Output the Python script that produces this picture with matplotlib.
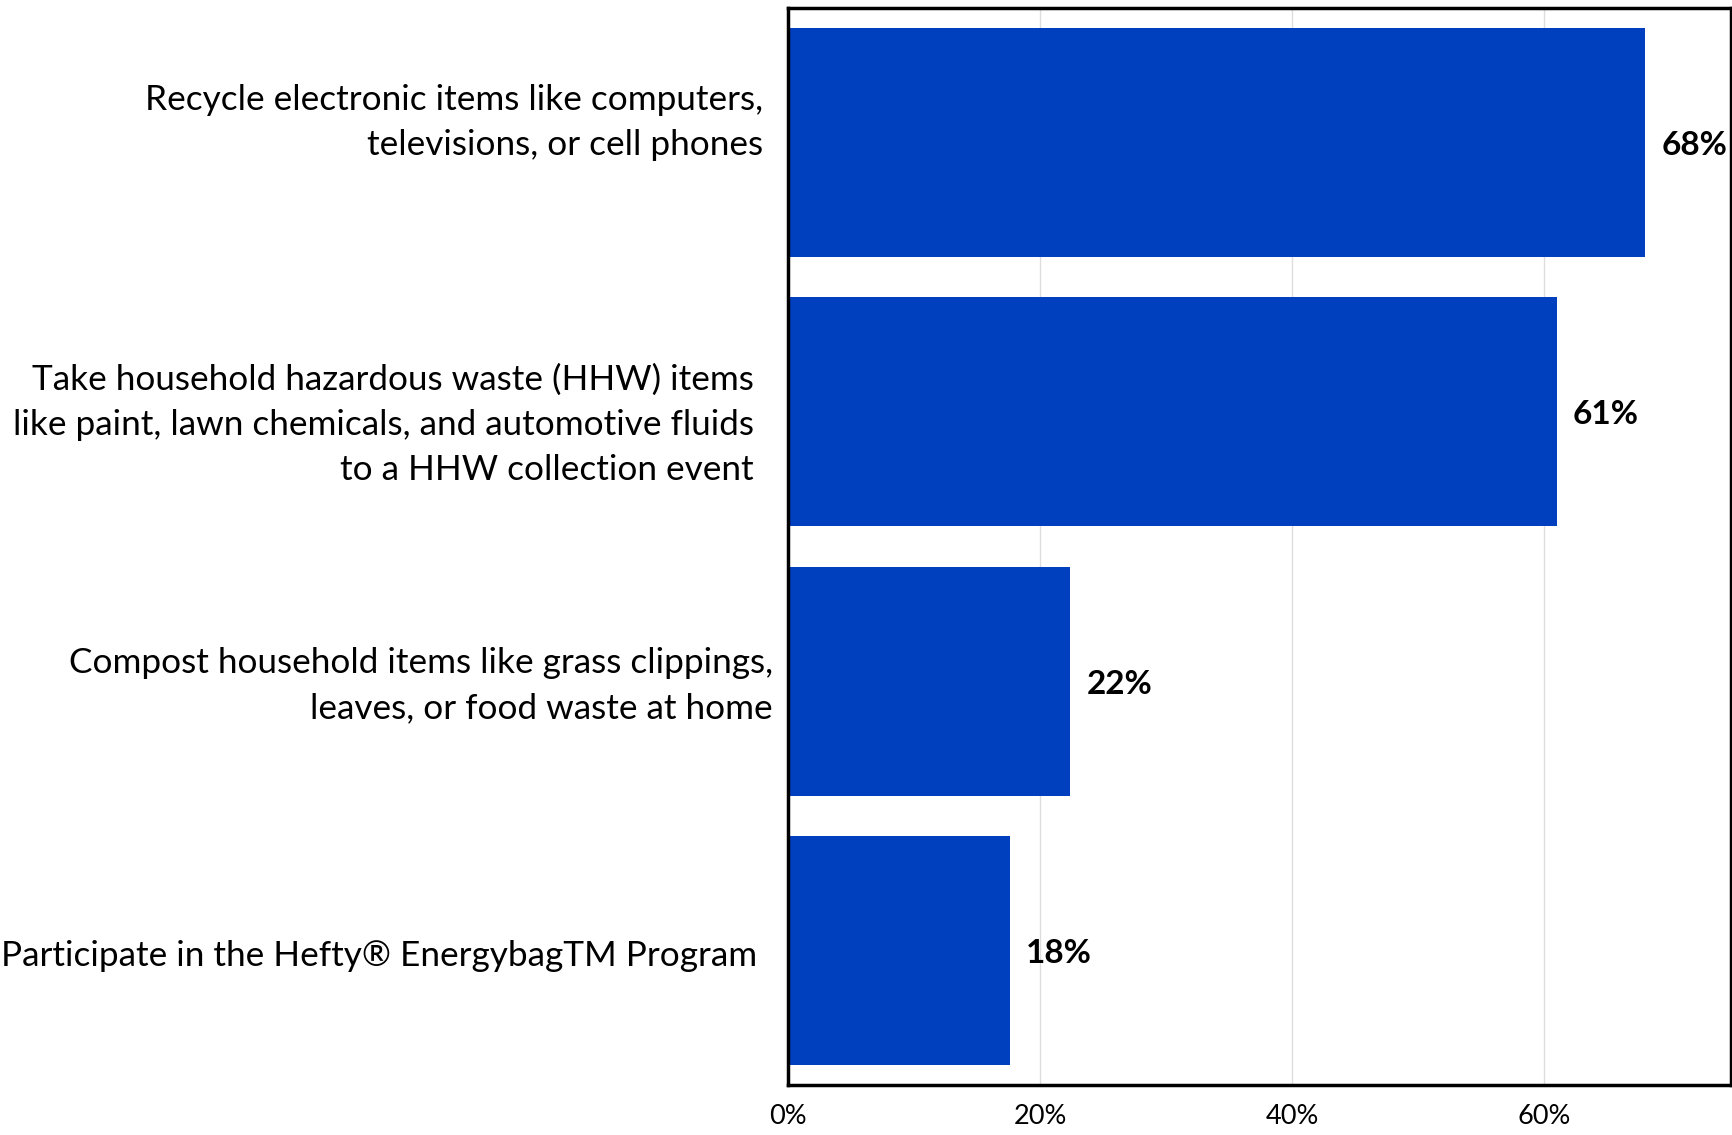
import matplotlib
matplotlib.use('Agg')
import matplotlib.pyplot as plt
import matplotlib.transforms as mtransforms

# Share of respondents who say they would take each action
actions = [
    'Recycle electronic items like computers,\ntelevisions, or cell phones',
    'Take household hazardous waste (HHW) items\nlike paint, lawn chemicals, and automotive fluids\nto a HHW collection event',
    'Compost household items like grass clippings,\nleaves, or food waste at home',
    'Participate in the Hefty\u00ae EnergybagTM Program',
]
shares = [0.68, 0.61, 0.224, 0.176]
tick_values = [0.0, 0.2, 0.4, 0.6]
tick_labels = ['0%', '20%', '40%', '60%']

# hand-tuned label placement (pixel gap left of the axis, vertical nudge)
label_gap_px = [25, 34, 15, 31]
label_dy_px = [20, -13, -4.5, -5.5]

BAR_COLOR = '#0040BE'
FONT = ['Lato', 'DejaVu Sans']

fig = plt.figure(figsize=(17.33, 11.35), dpi=100)
ax = fig.add_axes([788 / 1733, 1 - 1085 / 1135, (1731 - 788) / 1733, (1085 - 8) / 1135])

ypos = list(range(len(actions)))
ax.barh(ypos, shares, height=0.85, color=BAR_COLOR, zorder=2)
ax.set_ylim(len(actions) - 0.5, -0.5)
ax.set_xlim(0, 0.748)

# value labels just past the bar ends
for y, v in zip(ypos, shares):
    ax.annotate(f'{v:.0%}', xy=(v, y), xytext=(16, -3), textcoords='offset pixels',
                ha='left', va='center', fontsize=24, fontweight='bold', family=FONT)

# category labels to the left of the axis
for y, text, gap, dy in zip(ypos, actions, label_gap_px, label_dy_px):
    trans = ax.get_yaxis_transform() + mtransforms.ScaledTranslation(-gap / 100, dy / 100, fig.dpi_scale_trans)
    ax.text(0, y, text, transform=trans, ha='right', va='center', multialignment='right',
            fontsize=25.3, family=FONT, linespacing=1.5)

ax.set_yticks([])
ax.set_xticks(tick_values)
ax.set_xticklabels(tick_labels, fontsize=19.5, family=FONT)
ax.tick_params(axis='x', length=0, pad=14)
ax.grid(axis='x', color='#DDDDDD', linewidth=1, zorder=0)
for s in ax.spines.values():
    s.set_linewidth(2.5)
    s.set_color('black')

fig.savefig('out.png', dpi=100)
